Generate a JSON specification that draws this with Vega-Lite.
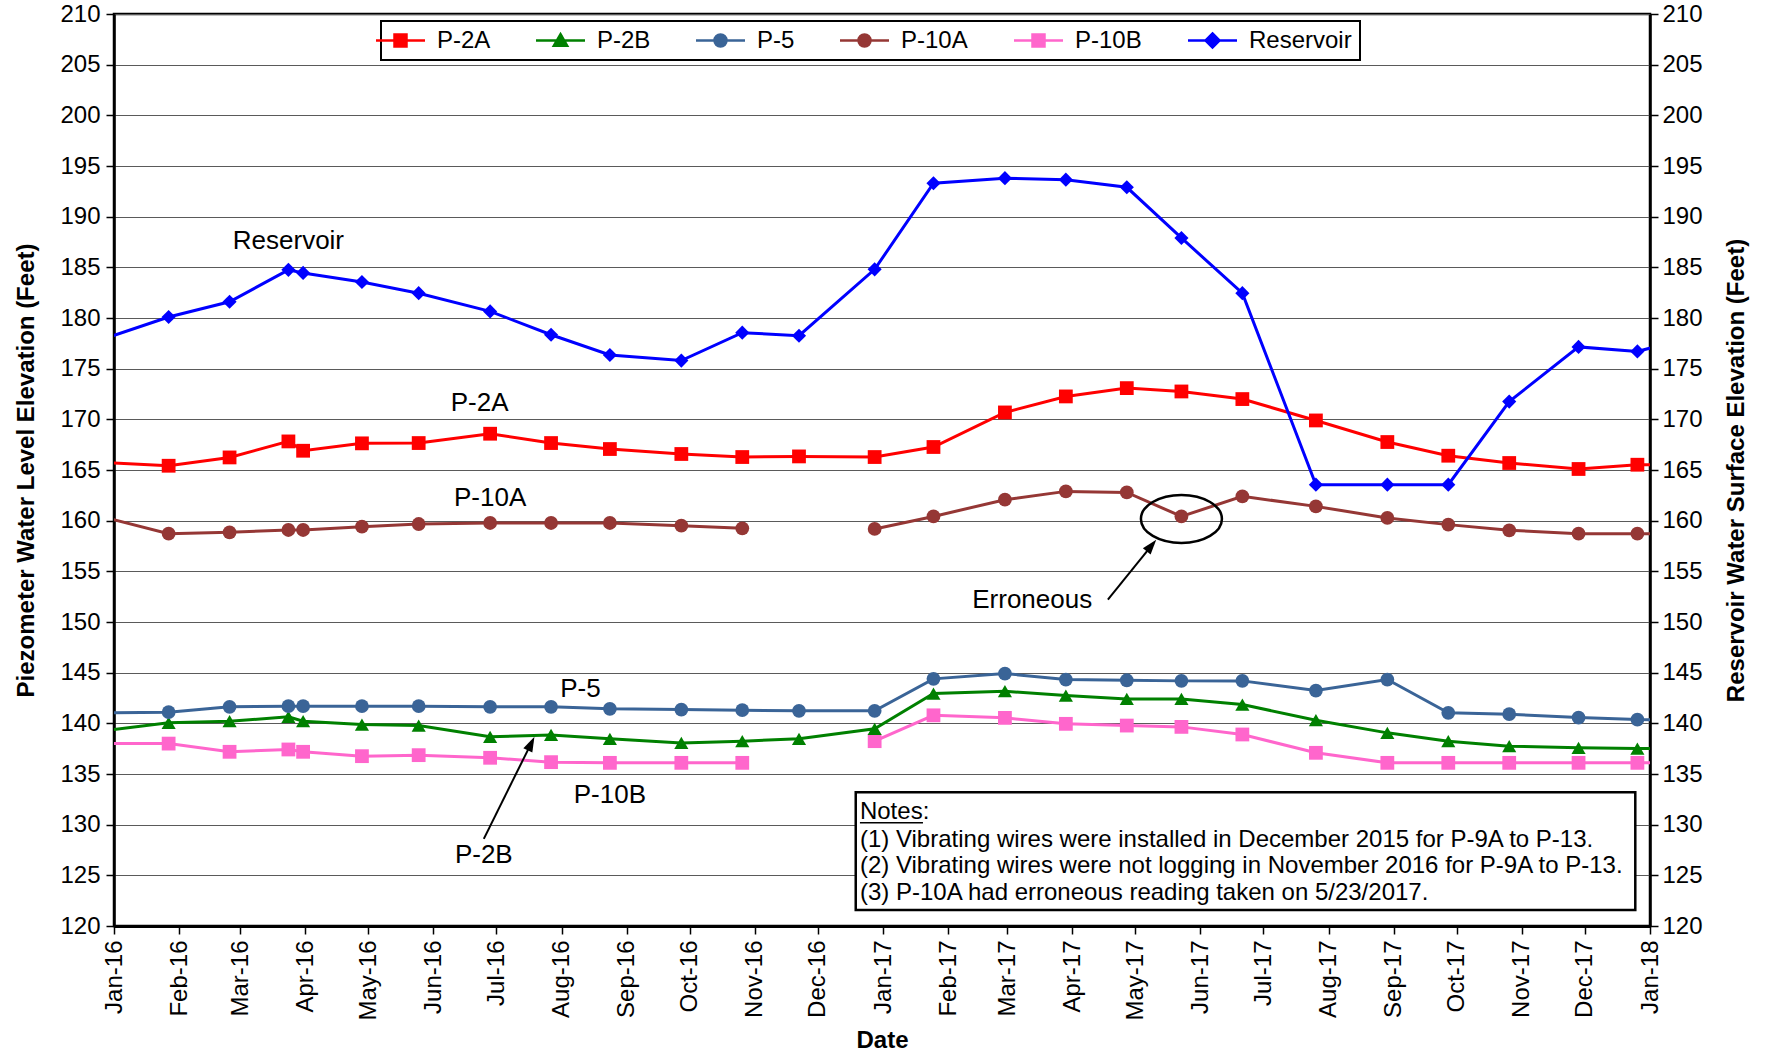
{
  "$schema": "https://vega.github.io/schema/vega-lite/v6.json",
  "width": 1536,
  "height": 912,
  "autosize": {"type": "none"},
  "padding": {"left": 114, "top": 14, "right": 123, "bottom": 127},
  "background": "white",
  "config": {
    "font": "Liberation Sans",
    "view": {"stroke": "black", "strokeWidth": 2.5},
    "axis": {
      "labelFont": "Liberation Sans", "titleFont": "Liberation Sans",
      "labelColor": "black", "titleColor": "black", "tickColor": "black", "domainColor": "black",
      "labelFontSize": 24, "titleFontSize": 24, "titleFontWeight": "bold",
      "tickSize": 8, "tickWidth": 1.5, "domainWidth": 2.5
    },
    "text": {"font": "Liberation Sans", "color": "black"}
  },
  "datasets": {
    "obs": [
      {"series": "P-2A", "date": "2015-12-28", "value": 165.73},
      {"series": "P-2A", "date": "2016-01-27", "value": 165.42},
      {"series": "P-2A", "date": "2016-02-25", "value": 166.24},
      {"series": "P-2A", "date": "2016-03-24", "value": 167.82},
      {"series": "P-2A", "date": "2016-03-31", "value": 166.9},
      {"series": "P-2A", "date": "2016-04-28", "value": 167.63},
      {"series": "P-2A", "date": "2016-05-25", "value": 167.66},
      {"series": "P-2A", "date": "2016-06-28", "value": 168.58},
      {"series": "P-2A", "date": "2016-07-27", "value": 167.66},
      {"series": "P-2A", "date": "2016-08-24", "value": 167.07},
      {"series": "P-2A", "date": "2016-09-27", "value": 166.58},
      {"series": "P-2A", "date": "2016-10-26", "value": 166.28},
      {"series": "P-2A", "date": "2016-11-22", "value": 166.34},
      {"series": "P-2A", "date": "2016-12-28", "value": 166.28},
      {"series": "P-2A", "date": "2017-01-25", "value": 167.27},
      {"series": "P-2A", "date": "2017-02-28", "value": 170.68},
      {"series": "P-2A", "date": "2017-03-29", "value": 172.26},
      {"series": "P-2A", "date": "2017-04-27", "value": 173.08},
      {"series": "P-2A", "date": "2017-05-23", "value": 172.75},
      {"series": "P-2A", "date": "2017-06-21", "value": 172.0},
      {"series": "P-2A", "date": "2017-07-26", "value": 169.89},
      {"series": "P-2A", "date": "2017-08-29", "value": 167.76},
      {"series": "P-2A", "date": "2017-09-27", "value": 166.41},
      {"series": "P-2A", "date": "2017-10-26", "value": 165.69},
      {"series": "P-2A", "date": "2017-11-28", "value": 165.1},
      {"series": "P-2A", "date": "2017-12-26", "value": 165.52},
      {"series": "P-2A", "date": "2018-01-24", "value": 165.5},
      {"series": "P-2B", "date": "2015-12-28", "value": 139.29},
      {"series": "P-2B", "date": "2016-01-27", "value": 140.05},
      {"series": "P-2B", "date": "2016-02-25", "value": 140.21},
      {"series": "P-2B", "date": "2016-03-24", "value": 140.64},
      {"series": "P-2B", "date": "2016-03-31", "value": 140.21},
      {"series": "P-2B", "date": "2016-04-28", "value": 139.88},
      {"series": "P-2B", "date": "2016-05-25", "value": 139.78},
      {"series": "P-2B", "date": "2016-06-28", "value": 138.67},
      {"series": "P-2B", "date": "2016-07-27", "value": 138.86},
      {"series": "P-2B", "date": "2016-08-24", "value": 138.47},
      {"series": "P-2B", "date": "2016-09-27", "value": 138.07},
      {"series": "P-2B", "date": "2016-10-26", "value": 138.24},
      {"series": "P-2B", "date": "2016-11-22", "value": 138.47},
      {"series": "P-2B", "date": "2016-12-28", "value": 139.46},
      {"series": "P-2B", "date": "2017-01-25", "value": 142.94},
      {"series": "P-2B", "date": "2017-02-28", "value": 143.17},
      {"series": "P-2B", "date": "2017-03-29", "value": 142.74},
      {"series": "P-2B", "date": "2017-04-27", "value": 142.41},
      {"series": "P-2B", "date": "2017-05-23", "value": 142.41},
      {"series": "P-2B", "date": "2017-06-21", "value": 141.85},
      {"series": "P-2B", "date": "2017-07-26", "value": 140.31},
      {"series": "P-2B", "date": "2017-08-29", "value": 139.06},
      {"series": "P-2B", "date": "2017-09-27", "value": 138.24},
      {"series": "P-2B", "date": "2017-10-26", "value": 137.75},
      {"series": "P-2B", "date": "2017-11-28", "value": 137.58},
      {"series": "P-2B", "date": "2017-12-26", "value": 137.51},
      {"series": "P-2B", "date": "2018-01-24", "value": 137.5},
      {"series": "P-5", "date": "2015-12-28", "value": 141.03},
      {"series": "P-5", "date": "2016-01-27", "value": 141.1},
      {"series": "P-5", "date": "2016-02-25", "value": 141.63},
      {"series": "P-5", "date": "2016-03-24", "value": 141.69},
      {"series": "P-5", "date": "2016-03-31", "value": 141.69},
      {"series": "P-5", "date": "2016-04-28", "value": 141.69},
      {"series": "P-5", "date": "2016-05-25", "value": 141.69},
      {"series": "P-5", "date": "2016-06-28", "value": 141.63},
      {"series": "P-5", "date": "2016-07-27", "value": 141.63},
      {"series": "P-5", "date": "2016-08-24", "value": 141.43},
      {"series": "P-5", "date": "2016-09-27", "value": 141.36},
      {"series": "P-5", "date": "2016-10-26", "value": 141.3},
      {"series": "P-5", "date": "2016-11-22", "value": 141.23},
      {"series": "P-5", "date": "2016-12-28", "value": 141.23},
      {"series": "P-5", "date": "2017-01-25", "value": 144.39},
      {"series": "P-5", "date": "2017-02-28", "value": 144.91},
      {"series": "P-5", "date": "2017-03-29", "value": 144.32},
      {"series": "P-5", "date": "2017-04-27", "value": 144.25},
      {"series": "P-5", "date": "2017-05-23", "value": 144.19},
      {"series": "P-5", "date": "2017-06-21", "value": 144.19},
      {"series": "P-5", "date": "2017-07-26", "value": 143.23},
      {"series": "P-5", "date": "2017-08-29", "value": 144.32},
      {"series": "P-5", "date": "2017-09-27", "value": 141.04},
      {"series": "P-5", "date": "2017-10-26", "value": 140.9},
      {"series": "P-5", "date": "2017-11-28", "value": 140.57},
      {"series": "P-5", "date": "2017-12-26", "value": 140.37},
      {"series": "P-5", "date": "2018-01-24", "value": 140.3},
      {"series": "P-10A", "date": "2015-12-28", "value": 160.31},
      {"series": "P-10A", "date": "2016-01-27", "value": 158.72},
      {"series": "P-10A", "date": "2016-02-25", "value": 158.85},
      {"series": "P-10A", "date": "2016-03-24", "value": 159.08},
      {"series": "P-10A", "date": "2016-03-31", "value": 159.08},
      {"series": "P-10A", "date": "2016-04-28", "value": 159.41},
      {"series": "P-10A", "date": "2016-05-25", "value": 159.67},
      {"series": "P-10A", "date": "2016-06-28", "value": 159.77},
      {"series": "P-10A", "date": "2016-07-27", "value": 159.77},
      {"series": "P-10A", "date": "2016-08-24", "value": 159.77},
      {"series": "P-10A", "date": "2016-09-27", "value": 159.51},
      {"series": "P-10A", "date": "2016-10-26", "value": 159.24},
      {"series": "P-10A", "date": "2016-11-22", "value": null},
      {"series": "P-10A", "date": "2016-12-28", "value": 159.18},
      {"series": "P-10A", "date": "2017-01-25", "value": 160.42},
      {"series": "P-10A", "date": "2017-02-28", "value": 162.07},
      {"series": "P-10A", "date": "2017-03-29", "value": 162.89},
      {"series": "P-10A", "date": "2017-04-27", "value": 162.79},
      {"series": "P-10A", "date": "2017-05-23", "value": 160.42},
      {"series": "P-10A", "date": "2017-06-21", "value": 162.4},
      {"series": "P-10A", "date": "2017-07-26", "value": 161.41},
      {"series": "P-10A", "date": "2017-08-29", "value": 160.27},
      {"series": "P-10A", "date": "2017-09-27", "value": 159.61},
      {"series": "P-10A", "date": "2017-10-26", "value": 159.05},
      {"series": "P-10A", "date": "2017-11-28", "value": 158.72},
      {"series": "P-10A", "date": "2017-12-26", "value": 158.72},
      {"series": "P-10A", "date": "2018-01-24", "value": 158.7},
      {"series": "P-10B", "date": "2015-12-28", "value": 138.0},
      {"series": "P-10B", "date": "2016-01-27", "value": 138.0},
      {"series": "P-10B", "date": "2016-02-25", "value": 137.19},
      {"series": "P-10B", "date": "2016-03-24", "value": 137.42},
      {"series": "P-10B", "date": "2016-03-31", "value": 137.19},
      {"series": "P-10B", "date": "2016-04-28", "value": 136.76},
      {"series": "P-10B", "date": "2016-05-25", "value": 136.86},
      {"series": "P-10B", "date": "2016-06-28", "value": 136.6},
      {"series": "P-10B", "date": "2016-07-27", "value": 136.17},
      {"series": "P-10B", "date": "2016-08-24", "value": 136.1},
      {"series": "P-10B", "date": "2016-09-27", "value": 136.1},
      {"series": "P-10B", "date": "2016-10-26", "value": 136.1},
      {"series": "P-10B", "date": "2016-11-22", "value": null},
      {"series": "P-10B", "date": "2016-12-28", "value": 138.24},
      {"series": "P-10B", "date": "2017-01-25", "value": 140.79},
      {"series": "P-10B", "date": "2017-02-28", "value": 140.54},
      {"series": "P-10B", "date": "2017-03-29", "value": 139.95},
      {"series": "P-10B", "date": "2017-04-27", "value": 139.78},
      {"series": "P-10B", "date": "2017-05-23", "value": 139.65},
      {"series": "P-10B", "date": "2017-06-21", "value": 138.9},
      {"series": "P-10B", "date": "2017-07-26", "value": 137.09},
      {"series": "P-10B", "date": "2017-08-29", "value": 136.1},
      {"series": "P-10B", "date": "2017-09-27", "value": 136.1},
      {"series": "P-10B", "date": "2017-10-26", "value": 136.1},
      {"series": "P-10B", "date": "2017-11-28", "value": 136.1},
      {"series": "P-10B", "date": "2017-12-26", "value": 136.1},
      {"series": "P-10B", "date": "2018-01-24", "value": 136.1},
      {"series": "Reservoir", "date": "2015-12-28", "value": 178.0},
      {"series": "Reservoir", "date": "2016-01-27", "value": 180.1},
      {"series": "Reservoir", "date": "2016-02-25", "value": 181.6},
      {"series": "Reservoir", "date": "2016-03-24", "value": 184.75},
      {"series": "Reservoir", "date": "2016-03-31", "value": 184.45},
      {"series": "Reservoir", "date": "2016-04-28", "value": 183.55},
      {"series": "Reservoir", "date": "2016-05-25", "value": 182.45},
      {"series": "Reservoir", "date": "2016-06-28", "value": 180.65},
      {"series": "Reservoir", "date": "2016-07-27", "value": 178.35},
      {"series": "Reservoir", "date": "2016-08-24", "value": 176.35},
      {"series": "Reservoir", "date": "2016-09-27", "value": 175.8},
      {"series": "Reservoir", "date": "2016-10-26", "value": 178.55},
      {"series": "Reservoir", "date": "2016-11-22", "value": 178.25},
      {"series": "Reservoir", "date": "2016-12-28", "value": 184.8},
      {"series": "Reservoir", "date": "2017-01-25", "value": 193.3},
      {"series": "Reservoir", "date": "2017-02-28", "value": 193.8},
      {"series": "Reservoir", "date": "2017-03-29", "value": 193.65},
      {"series": "Reservoir", "date": "2017-04-27", "value": 192.9},
      {"series": "Reservoir", "date": "2017-05-23", "value": 187.9},
      {"series": "Reservoir", "date": "2017-06-21", "value": 182.45},
      {"series": "Reservoir", "date": "2017-07-26", "value": 163.55},
      {"series": "Reservoir", "date": "2017-08-29", "value": 163.55},
      {"series": "Reservoir", "date": "2017-09-27", "value": 163.55},
      {"series": "Reservoir", "date": "2017-10-26", "value": 171.75},
      {"series": "Reservoir", "date": "2017-11-28", "value": 177.15},
      {"series": "Reservoir", "date": "2017-12-26", "value": 176.7},
      {"series": "Reservoir", "date": "2018-01-24", "value": 178.3}
    ],
    "labels": [
      {"label": "Reservoir", "date": "2016-03-24", "value": 187.55},
      {"label": "P-2A", "date": "2016-06-23", "value": 171.6},
      {"label": "P-10A", "date": "2016-06-28", "value": 162.25},
      {"label": "P-5", "date": "2016-08-10", "value": 143.35},
      {"label": "P-10B", "date": "2016-08-24", "value": 132.9},
      {"label": "P-2B", "date": "2016-06-25", "value": 127.05},
      {"label": "Erroneous", "date": "2017-03-13", "value": 152.2}
    ],
    "notes": [
      {"label": "Notes:", "date": "2016-12-21", "value": 131.23},
      {"label": "(1) Vibrating wires were installed in December 2015 for P-9A to P-13.", "date": "2016-12-21", "value": 128.51},
      {"label": "(2) Vibrating wires were not logging in November 2016 for P-9A to P-13.", "date": "2016-12-21", "value": 125.89},
      {"label": "(3) P-10A had erroneous reading taken on 5/23/2017.", "date": "2016-12-21", "value": 123.21}
    ],
    "underline": [
      {"date": "2016-12-21", "date2": "2017-01-20", "value": 130.2}
    ],
    "box": [
      {"date": "2016-12-19", "date2": "2017-12-25", "value": 133.2, "value2": 121.57}
    ],
    "arrows": [
      {"name": "P-2B", "date": "2016-06-25", "value": 128.6, "date2": "2016-07-17", "value2": 137.8},
      {"name": "Erroneous", "date": "2017-04-18", "value": 152.2, "date2": "2017-05-08", "value2": 157.35}
    ],
    "heads": [
      {"name": "P-2B", "date": "2016-07-17", "value": 137.78},
      {"name": "Erroneous", "date": "2017-05-08", "value": 157.36}
    ],
    "ring": [
      {"date": "2017-05-23", "value": 160.17}
    ]
  },
  "encoding": {
    "x": {
      "field": "date", "type": "temporal",
      "scale": {"type": "utc", "domain": [{"year": 2016, "month": 1, "date": 1, "utc": true}, {"year": 2018, "month": 1, "date": 1, "utc": true}]},
      "axis": {
        "title": "Date", "labelExpr": "utcFormat(datum.value, '%b-%y')", "labelAngle": -90,
        "tickCount": {"interval": "month", "step": 1}, "grid": false,
        "labelFontSize": 24, "labelPadding": 6, "titlePadding": 8,
        "labelFlush": false, "labelOverlap": false, "domainWidth": 3
      }
    },
    "y": {
      "field": "value", "type": "quantitative",
      "scale": {"domain": [120, 210], "nice": false, "zero": false},
      "axis": null
    }
  },
  "layer": [
    {
      "data": {"name": "obs"},
      "mark": {"type": "line", "strokeWidth": 3, "clip": true, "invalid": "break-paths-filter-domains"},
      "encoding": {
        "y": {
          "field": "value", "type": "quantitative",
          "scale": {"domain": [120, 210], "nice": false, "zero": false},
          "axis": {
            "orient": "left", "title": "Piezometer Water Level Elevation (Feet)",
            "values": [120, 125, 130, 135, 140, 145, 150, 155, 160, 165, 170, 175, 180, 185, 190, 195, 200, 205, 210],
            "grid": true, "gridColor": "#5a5a5a", "gridWidth": 1.2,
            "labelPadding": 6, "titlePadding": 21
          }
        },
        "color": {
          "field": "series", "type": "nominal",
          "scale": {"domain": ["P-2A", "P-2B", "P-5", "P-10A", "P-10B", "Reservoir"], "range": ["#FF0000", "#008000", "#3A6497", "#953735", "#FF66CC", "#0000FF"]}
        }
      }
    },
    {
      "data": {"name": "obs"},
      "transform": [{"filter": {"field": "series", "oneOf": ["P-2A", "P-10B"]}}],
      "mark": {"type": "point", "shape": "square", "filled": true, "size": 190, "opacity": 1, "clip": true},
      "encoding": {"fill": {"field": "series", "type": "nominal", "scale": {"domain": ["P-10A", "P-10B", "P-2A", "P-2B", "P-5", "Reservoir"], "range": ["#953735", "#FF66CC", "#FF0000", "#008000", "#3A6497", "#0000FF"]}, "legend": null}}
    },
    {
      "data": {"name": "obs"},
      "transform": [{"filter": {"field": "series", "oneOf": ["P-2B"]}}],
      "mark": {"type": "point", "shape": "triangle-up", "filled": true, "size": 200, "opacity": 1, "clip": true},
      "encoding": {"fill": {"field": "series", "type": "nominal", "legend": null}}
    },
    {
      "data": {"name": "obs"},
      "transform": [{"filter": {"field": "series", "oneOf": ["P-5", "P-10A"]}}],
      "mark": {"type": "point", "shape": "circle", "filled": true, "size": 190, "opacity": 1, "clip": true},
      "encoding": {"fill": {"field": "series", "type": "nominal", "legend": null}}
    },
    {
      "data": {"name": "obs"},
      "transform": [{"filter": {"field": "series", "oneOf": ["Reservoir"]}}],
      "mark": {"type": "point", "shape": "diamond", "filled": true, "size": 200, "opacity": 1, "clip": true},
      "encoding": {
        "y": {
          "field": "value", "type": "quantitative",
          "scale": {"domain": [120, 210], "nice": false, "zero": false},
          "axis": {
            "orient": "right", "title": "Reservoir Water Surface Elevation (Feet)",
            "values": [120, 125, 130, 135, 140, 145, 150, 155, 160, 165, 170, 175, 180, 185, 190, 195, 200, 205, 210],
            "grid": false, "labelPadding": 4, "titlePadding": 22,
            "titleAngle": -90, "titleBaseline": "top"
          }
        },
        "fill": {"field": "series", "type": "nominal", "legend": null}
      }
    },
    {
      "data": {"name": "obs"},
      "transform": [{"filter": "false"}],
      "mark": {"type": "point", "filled": true, "opacity": 1},
      "encoding": {
        "color": {
          "field": "series", "type": "nominal",
          "scale": {"domain": ["P-2A", "P-2B", "P-5", "P-10A", "P-10B", "Reservoir"], "range": ["#FF0000", "#008000", "#3A6497", "#953735", "#FF66CC", "#0000FF"]},
          "legend": {
            "title": null,
            "orient": "none", "legendX": 267, "legendY": 7, "direction": "horizontal",
            "symbolSize": 196, "symbolStrokeWidth": 2.5, "symbolOpacity": 1,
            "labelFont": "Liberation Sans", "labelFontSize": 24, "labelColor": "black", "labelOffset": 24.5, "labelLimit": 300,
            "columnPadding": 40, "padding": 7.5, "strokeColor": "black", "fillColor": "white",
            "encode": {
              "legend": {"update": {"strokeWidth": {"value": 2}}}
            }
          }
        },
        "shape": {
          "field": "series", "type": "nominal",
          "scale": {
            "domain": ["P-2A", "P-2B", "P-5", "P-10A", "P-10B", "Reservoir"],
            "range": [
              "M-3.5,0H3.5M-0.857,-0.857H0.857V0.857H-0.857Z",
              "M-3.5,0H3.5M0,-0.9L0.95,0.75L-0.95,0.75Z",
              "M-3.5,0H3.5M-0.857,0C-0.857,-0.473,-0.473,-0.857,0,-0.857C0.473,-0.857,0.857,-0.473,0.857,0C0.857,0.473,0.473,0.857,0,0.857C-0.473,0.857,-0.857,0.473,-0.857,0Z",
              "M-3.5,0H3.5M-0.857,0C-0.857,-0.473,-0.473,-0.857,0,-0.857C0.473,-0.857,0.857,-0.473,0.857,0C0.857,0.473,0.473,0.857,0,0.857C-0.473,0.857,-0.857,0.473,-0.857,0Z",
              "M-3.5,0H3.5M-0.857,-0.857H0.857V0.857H-0.857Z",
              "M-3.5,0H3.5M0,-1L1,0L0,1L-1,0Z"
            ]
          },
          "legend": {"orient": "none", "legendX": 267, "legendY": 7, "direction": "horizontal"}
        }
      }
    },
    {
      "data": {"name": "labels"},
      "mark": {"type": "text", "fontSize": 26, "align": "center", "baseline": "middle", "color": "black", "font": "Liberation Sans"},
      "encoding": {"text": {"field": "label", "type": "nominal"}}
    },
    {
      "data": {"name": "arrows"},
      "mark": {"type": "rule", "strokeWidth": 2, "color": "black"},
      "encoding": {
        "x2": {"field": "date2"},
        "y2": {"field": "value2"}
      }
    },
    {
      "data": {"name": "heads"},
      "transform": [{"filter": {"field": "name", "equal": "P-2B"}}],
      "mark": {"type": "point", "shape": "M0,-1L0.5,0.5L-0.5,0.5Z", "size": 400, "filled": true, "color": "black", "opacity": 1, "angle": 26}
    },
    {
      "data": {"name": "heads"},
      "transform": [{"filter": {"field": "name", "equal": "Erroneous"}}],
      "mark": {"type": "point", "shape": "M0,-1L0.5,0.5L-0.5,0.5Z", "size": 400, "filled": true, "color": "black", "opacity": 1, "angle": 39}
    },
    {
      "data": {"name": "ring"},
      "mark": {"type": "point", "shape": "M-1,0C-1,-0.3275,-0.5523,-0.593,0,-0.593C0.5523,-0.593,1,-0.3275,1,0C1,0.3275,0.5523,0.593,0,0.593C-0.5523,0.593,-1,0.3275,-1,0Z", "size": 6561, "filled": false, "color": "black", "strokeWidth": 2.5, "opacity": 1}
    },
    {
      "data": {"name": "box"},
      "mark": {"type": "rect", "fill": "white", "stroke": "black", "strokeWidth": 2.5},
      "encoding": {
        "x2": {"field": "date2"},
        "y2": {"field": "value2"}
      }
    },
    {
      "data": {"name": "notes"},
      "mark": {"type": "text", "fontSize": 24, "align": "left", "baseline": "middle", "color": "black", "font": "Liberation Sans"},
      "encoding": {"text": {"field": "label", "type": "nominal"}}
    },
    {
      "data": {"name": "underline"},
      "mark": {"type": "rule", "strokeWidth": 1.5, "color": "black"},
      "encoding": {"x2": {"field": "date2"}}
    }
  ],
  "resolve": {"axis": {"y": "independent"}}
}
